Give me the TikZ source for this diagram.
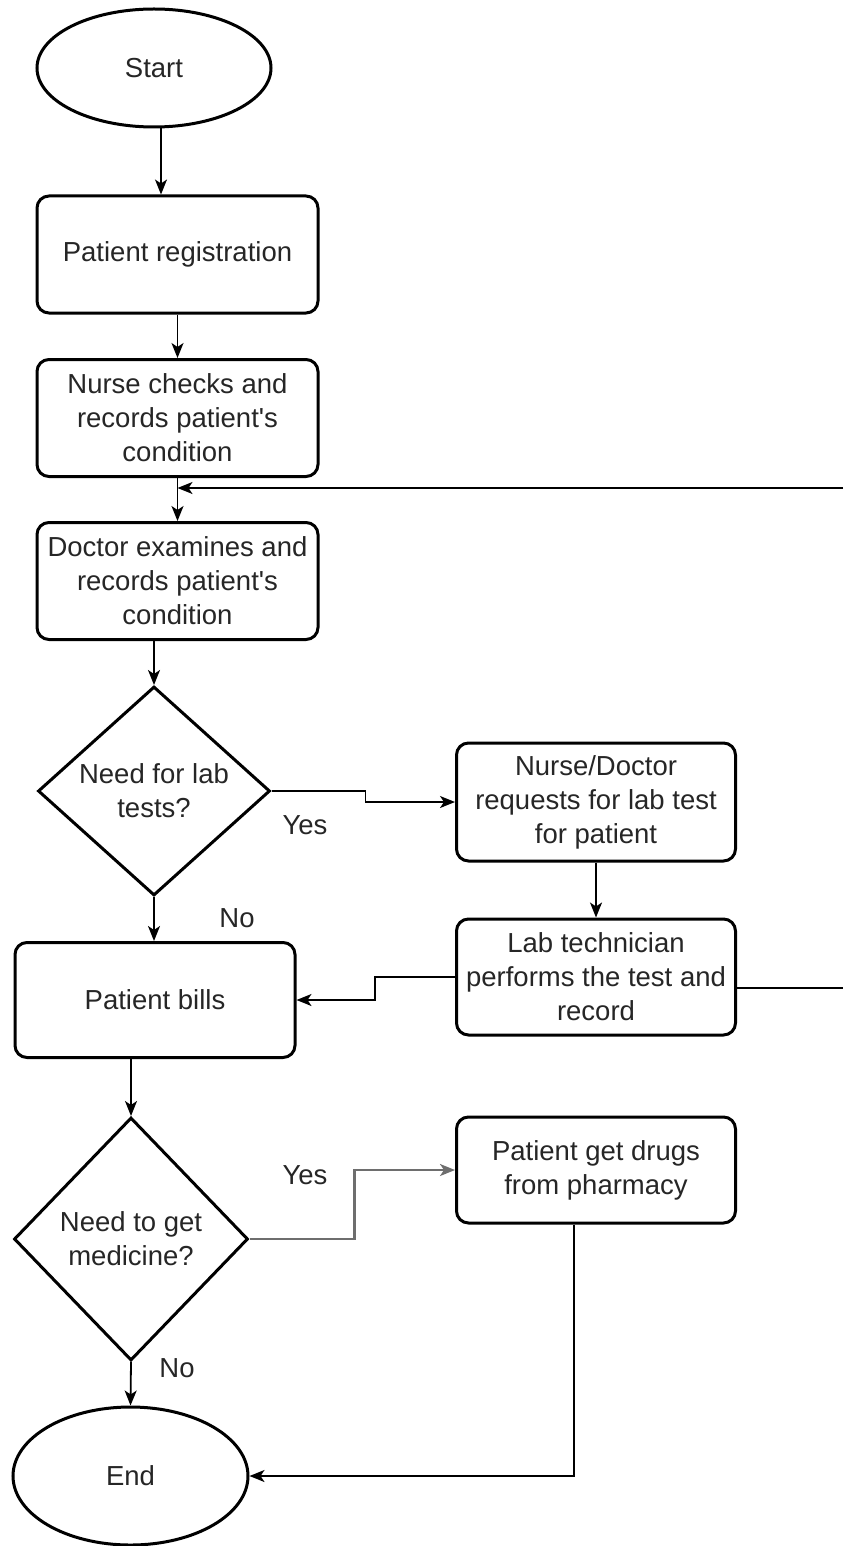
\documentclass[tikz,border=0pt]{standalone}
\usepackage{fontspec}
\setmainfont{Liberation Sans}[Ligatures=TeXOff]
\usetikzlibrary{shapes.geometric,arrows.meta,calc}
\begin{document}
\begin{tikzpicture}[x=1pt,y=-1pt,
  every node/.style={font=\fontsize{27.5}{34}\selectfont, text=black!85},
  box/.style={draw, line width=3pt, rounded corners=12pt, minimum width=281pt, minimum height=117pt, inner sep=0pt, align=center},
  term/.style={draw, line width=3pt, ellipse, inner sep=0pt, align=center},
  dec/.style={draw, line width=3pt, diamond, inner sep=0pt, align=center},
  arr/.style={line width=1.8pt, -{Stealth[length=15pt,width=12pt,inset=4pt]}},
  ln/.style={line width=1.8pt},
  lbl/.style={inner sep=0pt}
]
\useasboundingbox (0,0) rectangle (843,1546);
\fill[white] (0,0) rectangle (843,1546);

\node[term, minimum width=234pt, minimum height=118pt] (start) at (154,68) {Start};
\node[box] (reg) at (177.5,254.5) {Patient registration};
\node[box] (nurse) at (177.5,418) {Nurse checks and\\records patient's\\condition};
\node[box] (doctor) at (177.5,581) {Doctor examines and\\records patient's\\condition};
\node[dec, minimum width=232pt, minimum height=209pt, aspect=1.11] (d1) at (154,791) {Need for lab\\tests?};
\node[box, minimum width=279pt, minimum height=118pt] (req) at (596,802) {Nurse/Doctor\\requests for lab test\\for patient};
\node[box, minimum width=279pt, minimum height=116pt] (lab) at (596,977) {Lab technician\\performs the test and\\record};
\node[box, minimum width=280pt, minimum height=115pt] (bills) at (155,1000) {Patient bills};
\node[dec, minimum width=234pt, minimum height=243pt, aspect=0.96] (d2) at (131,1239) {Need to get\\medicine?};
\node[box, minimum width=279pt, minimum height=106pt] (pharm) at (596,1170) {Patient get drugs\\from pharmacy};
\node[term, minimum width=235pt, minimum height=138pt] (end) at (130.5,1476) {End};

\node[lbl] (yes1) at (305,825) {Yes};
\node[lbl] (no1) at (237,918) {No};
\node[lbl] (yes2) at (305,1175) {Yes};
\node[lbl] (no2) at (177,1368) {No};

\coordinate (j) at (177.5,488);
\coordinate (edgeA) at (843,488);
\coordinate (edgeB) at (843,988);

\draw[arr] ([xshift=7pt]start.south) -- ([xshift=7pt]start.south |- reg.north);
\draw[arr] (reg.south) -- (nurse.north);
\draw[arr] (nurse.south) -- (doctor.north);
\draw[arr] (edgeA) -- (j);
\draw[arr] (d1.north |- doctor.south) -- (d1.north);
\draw[arr] (d1.east) -- ++(94,0) |- (req.west);
\draw[arr] (req.south) -- (lab.north);
\draw[arr] (lab.west) -- ++(-80,0) |- (bills.east);
\draw[ln] ([yshift=-11pt]lab.east) -- (edgeB);
\draw[arr] (d1.south) -- (d1.south |- bills.north);
\draw[arr] (d2.north |- bills.south) -- (d2.north);
\draw[arr, draw={rgb,255:red,110;green,110;blue,110}, line width=2.2pt] (d2.east) -- ++(105,0) |- (pharm.west);
\draw[arr] (d2.south) -- (end.north);
\draw[arr] ([xshift=-22pt]pharm.south) |- (end.east);
\end{tikzpicture}
\end{document}
